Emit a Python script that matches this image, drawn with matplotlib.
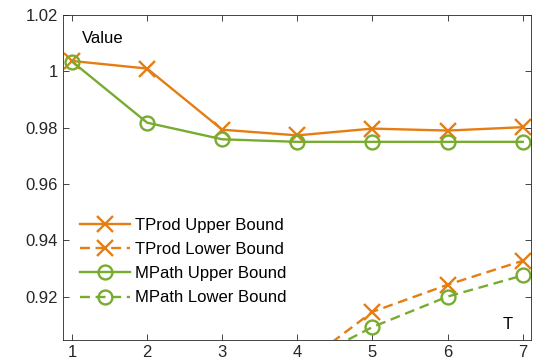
import matplotlib.pyplot as plt

plt.rcParams['font.family'] = ['Liberation Sans', 'DejaVu Sans']

T = [1, 2, 3, 4, 5, 6, 7]
tprod_upper = [1.0037, 1.0010, 0.9793, 0.9773, 0.9797, 0.9790, 0.9802]
mpath_upper = [1.0035, 0.9818, 0.9759, 0.9750, 0.9750, 0.9750, 0.9750]
T_low = [4, 5, 6, 7]
tprod_lower = [0.8947, 0.9147, 0.9243, 0.9328]
mpath_lower = [0.8955, 0.9093, 0.9201, 0.9276]

orange = '#E57E12'
green = '#77AC30'

fig = plt.figure(figsize=(5.41, 3.6), dpi=100)
ax = fig.add_axes([0.1165, 0.0556, 0.865, 0.9027])

style = dict(lw=1.7, mew=1.7)
dash = (4.2, 2.4)
ax.plot(T, tprod_upper, '-', color=orange, marker='x', ms=12, label='TProd Upper Bound', **style)
ax.plot(T_low, tprod_lower, '--', color=orange, marker='x', ms=12, dashes=dash, label='TProd Lower Bound', **style)
ax.plot(T, mpath_upper, '-', color=green, marker='o', ms=10, mfc='none', label='MPath Upper Bound', **style)
ax.plot(T_low, mpath_lower, '--', color=green, marker='o', ms=10, mfc='none', dashes=dash, label='MPath Lower Bound', **style)

ax.set_xlim(0.88, 7.11)
ax.set_ylim(0.9047, 1.02)
ax.set_xticks(T)
ax.set_yticks([0.92, 0.94, 0.96, 0.98, 1.0, 1.02])
ax.set_yticklabels(['0.92', '0.94', '0.96', '0.98', '1', '1.02'])
ax.tick_params(direction='in', top=True, right=True, labelsize=12, colors='#262626', length=4.5, width=0.6)
for s in ax.spines.values():
    s.set_color('#262626')
    s.set_linewidth(0.6)

ax.text(0.04, 0.915, 'Value', transform=ax.transAxes, fontsize=12)
ax.text(0.94, 0.035, 'T', transform=ax.transAxes, fontsize=12)

ax.legend(loc='lower left', bbox_to_anchor=(0.005, 0.06), frameon=False, fontsize=12,
          handlelength=3.0, handletextpad=0.3, labelspacing=0.55)

fig.savefig('out.png', dpi=100)
